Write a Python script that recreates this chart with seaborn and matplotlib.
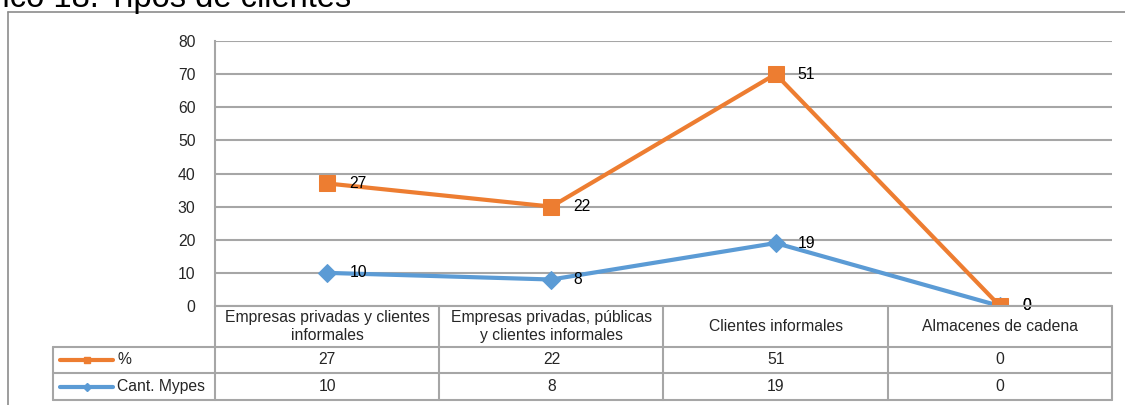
import numpy as np
import pandas as pd
import matplotlib
matplotlib.use("Agg")
import matplotlib.pyplot as plt
import seaborn as sns
from matplotlib.lines import Line2D
from matplotlib.transforms import blended_transform_factory

# Data
categories = ["Empresas privadas y clientes\ninformales",
              "Empresas privadas, públicas\ny clientes informales",
              "Clientes informales",
              "Almacenes de cadena"]
pct = [27, 22, 51, 0]
mypes = [10, 8, 19, 0]
series_names = ["%", "Cant. Mypes"]
y_ticks = [0, 10, 20, 30, 40, 50, 60, 70, 80]

ORANGE = "#ED7D31"
BLUE = "#5B9BD5"
GRID = "#a6a6a6"
FS = 11.3

sns.set_style("white")
plt.rcParams["font.family"] = ["Liberation Sans", "DejaVu Sans"]

W, H = 1125, 405
fig = plt.figure(figsize=(W / 100, H / 100), dpi=100)

def fx(x):
    return x / W

def fy(y):
    return 1 - y / H

# plot area in pixels: x 215-1112, y 41-306
ax = fig.add_axes([fx(215), fy(306), fx(1112) - fx(215), fy(41) - fy(306)])

x_pos = np.arange(len(categories))
stacked = np.array(mypes) + np.array(pct)  # stacked line chart
df = pd.DataFrame({"x": x_pos, "mypes": mypes, "stack": stacked})

sns.lineplot(data=df, x="x", y="mypes", color=BLUE, linewidth=3, marker="D",
             markersize=9.5, markeredgecolor=BLUE, ax=ax, zorder=3)
sns.lineplot(data=df, x="x", y="stack", color=ORANGE, linewidth=3, marker="s",
             markersize=11.5, markeredgecolor=ORANGE, ax=ax, zorder=4)

# data labels
for i in range(len(categories)):
    ax.annotate(str(mypes[i]), (x_pos[i], mypes[i]), xytext=(16, 0),
                textcoords="offset points", ha="left", va="center",
                fontsize=FS, color="black", zorder=5)
    ax.annotate(str(pct[i]), (x_pos[i], stacked[i]), xytext=(16, 0),
                textcoords="offset points", ha="left", va="center",
                fontsize=FS, color="black", zorder=5)

ax.set_xlim(-0.5, len(categories) - 0.5)
ax.set_ylim(0, 80)
ax.set_yticks(y_ticks)
ax.set_yticklabels([str(t) for t in y_ticks], fontsize=FS)
ax.set_xticks([])
ax.set_xlabel("")
ax.set_ylabel("")
ax.tick_params(axis="y", length=0, pad=14)
ax.grid(axis="y", color=GRID, linewidth=1.5)
ax.set_axisbelow(True)
for s in ["top", "right", "bottom"]:
    ax.spines[s].set_visible(False)
ax.spines["left"].set_color(GRID)
ax.spines["left"].set_linewidth(1.5)

# data table below the plot
def fline(x0, y0, x1, y1, **kw):
    fig.add_artist(Line2D([fx(x0), fx(x1)], [fy(y0), fy(y1)],
                          transform=fig.transFigure, color=GRID,
                          linewidth=1.5, **kw))

fline(215, 306, 1112, 306)
for yy in [347, 373, 400]:
    fline(53, yy, 1112, yy)
fline(215, 306, 215, 400)
fline(53, 347, 53, 400)
for xx in [439, 663, 888, 1112]:
    fline(xx, 306, xx, 400)

tr = blended_transform_factory(ax.transData, fig.transFigure)
for i, cat in enumerate(categories):
    fig.text(x_pos[i], fy(326.5), cat, transform=tr, ha="center", va="center",
             fontsize=FS, linespacing=1.25)
    fig.text(x_pos[i], fy(360), str(pct[i]), transform=tr, ha="center",
             va="center", fontsize=FS)
    fig.text(x_pos[i], fy(386.5), str(mypes[i]), transform=tr, ha="center",
             va="center", fontsize=FS)

# legend keys inside the table
for row_y, col, mk, ms, name in [(360, ORANGE, "s", 5, series_names[0]),
                                  (386.5, BLUE, "D", 4, series_names[1])]:
    fig.add_artist(Line2D([fx(60), fx(113)], [fy(row_y), fy(row_y)],
                          transform=fig.transFigure, color=col, linewidth=3,
                          marker=None))
    fig.add_artist(Line2D([fx(86.5)], [fy(row_y)], transform=fig.transFigure,
                          color=col, marker=mk, markersize=ms, linestyle="none"))
    fig.text(fx(117), fy(row_y), name, ha="left", va="center", fontsize=FS)

# outer chart border
fig.add_artist(Line2D([fx(8), fx(1125)], [fy(12), fy(12)],
                      transform=fig.transFigure, color="#8c8c8c", linewidth=1.2))
fig.add_artist(Line2D([fx(8), fx(8)], [fy(12), fy(405)],
                      transform=fig.transFigure, color="#8c8c8c", linewidth=1.2))

# title, partly cut off at the top left as in the source image
fig.text(fx(351), fy(6.5), "Gráfico 18. Tipos de clientes", ha="right",
         va="baseline", fontsize=23.5, color="black")

fig.savefig("out.png", dpi=100)
